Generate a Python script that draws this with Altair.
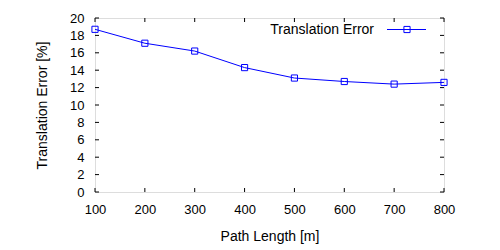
import altair as alt
import pandas as pd

path_length = [100, 200, 300, 400, 500, 600, 700, 800]
trans_err = [18.7, 17.1, 16.2, 14.3, 13.1, 12.7, 12.4, 12.6]
x_ticks = [100, 200, 300, 400, 500, 600, 700, 800]
y_ticks = [0, 2, 4, 6, 8, 10, 12, 14, 16, 18, 20]
series_name = ["Translation Error"]

W, H = 349, 174
BLUE = "#0000ff"
FONT = "Liberation Sans"

df = pd.DataFrame({"x": path_length, "y": trans_err})
xs = alt.Scale(domain=[100, 800], nice=False, zero=False)
ys = alt.Scale(domain=[0, 20], nice=False, zero=False)

common = dict(ticks=False, grid=False, domain=False, labelFlush=False, format="d",
              labelFont=FONT, titleFont=FONT, labelFontSize=13, titleFontSize=14,
              titleFontWeight="normal", labelColor="black", titleColor="black")
xaxis = alt.Axis(values=x_ticks, title="Path Length [m]", labelPadding=11, labelBaseline="top",
                 titleY=44, titleBaseline="middle", **common)
yaxis = alt.Axis(values=y_ticks, title="Translation Error [%]", labelPadding=11, titleX=-53, titleY=H / 2,
                 titleBaseline="middle", titleAlign="center", **common)

line = alt.Chart(df).mark_line(color=BLUE, strokeWidth=1).encode(
    x=alt.X("x:Q", scale=xs, axis=xaxis),
    y=alt.Y("y:Q", scale=ys, axis=yaxis),
)
pts = alt.Chart(df).mark_point(shape="square", filled=False, size=38, color=BLUE, strokeWidth=1, opacity=1).encode(
    x=alt.X("x:Q", scale=xs, axis=xaxis), y=alt.Y("y:Q", scale=ys, axis=yaxis)
)

ydf = pd.DataFrame({"y": y_ticks})
xdf = pd.DataFrame({"x": x_ticks})
TL = 4
ytl = alt.Chart(ydf).mark_rule(color="black", strokeWidth=1).encode(
    y=alt.Y("y:Q", scale=ys, axis=yaxis), x=alt.value(0), x2=alt.value(TL))
ytr = alt.Chart(ydf).mark_rule(color="black", strokeWidth=1).encode(
    y=alt.Y("y:Q", scale=ys, axis=yaxis), x=alt.value(W - TL), x2=alt.value(W))
xtb = alt.Chart(xdf).mark_rule(color="black", strokeWidth=1).encode(
    x=alt.X("x:Q", scale=xs, axis=xaxis), y=alt.value(H - TL), y2=alt.value(H))
xtt = alt.Chart(xdf).mark_rule(color="black", strokeWidth=1).encode(
    x=alt.X("x:Q", scale=xs, axis=xaxis), y=alt.value(0), y2=alt.value(TL))

ldf = pd.DataFrame({"label": series_name})
LY = 11.5
leg_text = alt.Chart(ldf).mark_text(align="right", baseline="middle", fontSize=14, font=FONT, color="black").encode(
    text="label:N", x=alt.value(279), y=alt.value(LY))
leg_rule = alt.Chart(ldf).mark_rule(color=BLUE, strokeWidth=1).encode(
    x=alt.value(292), x2=alt.value(331), y=alt.value(LY))
leg_pt = alt.Chart(ldf).mark_point(shape="square", filled=False, size=38, color=BLUE, strokeWidth=1, opacity=1).encode(
    x=alt.value(312), y=alt.value(LY))

chart = alt.layer(line, ytl, ytr, xtb, xtt, pts, leg_rule, leg_pt, leg_text).properties(
    width=W, height=H,
    autosize=alt.AutoSizeParams(type="none"),
    padding={"left": 87, "top": 10, "right": 48, "bottom": 56},
).configure_view(stroke="black", strokeWidth=1).configure(background="white")

chart.save("out.html", embed_options={"renderer": "svg", "actions": False})
